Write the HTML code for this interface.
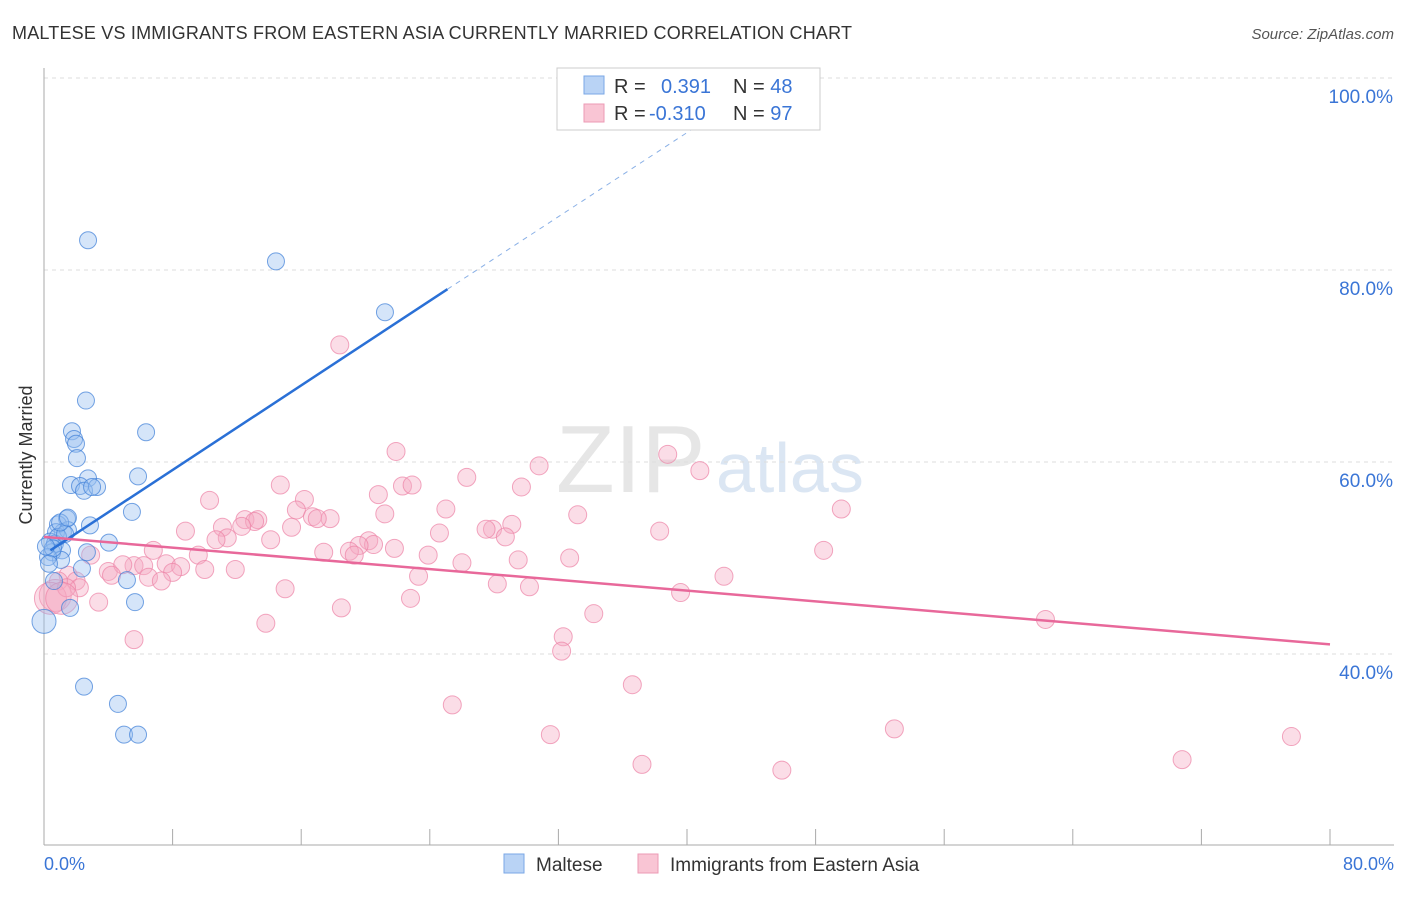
<!DOCTYPE html>
<html><head><meta charset="utf-8"><style>
body{margin:0;background:#fff;font-family:"Liberation Sans",sans-serif}
svg text{font-family:"Liberation Sans",sans-serif}
</style></head><body>
<svg width="1406" height="892">
<text x="12" y="39" font-size="18" fill="#333" textLength="840">MALTESE VS IMMIGRANTS FROM EASTERN ASIA CURRENTLY MARRIED CORRELATION CHART</text>
<text x="1394" y="39" font-size="15" fill="#555" font-style="italic" text-anchor="end">Source: ZipAtlas.com</text>
<text x="556" y="492" font-size="96" fill="#e6e6e6" font-family="Liberation Serif">ZIP</text>
<text x="716" y="492" font-size="70" fill="#dbe6f3">atlas</text>
<g id="grid"></g>
<line x1="44" y1="68" x2="44" y2="845" stroke="#aaa"/>
<line x1="44" y1="845" x2="1394" y2="845" stroke="#aaa"/>
<g id="ticks"></g>
<text x="32" y="455" font-size="18" fill="#333" transform="rotate(-90 32 455)" text-anchor="middle">Currently Married</text>
<text x="44" y="870" font-size="18" fill="#3a75d6">0.0%</text>
<text x="1394" y="870" font-size="18" fill="#3a75d6" text-anchor="end">80.0%</text>
<g id="pts"></g>
<g id="lines"></g>
<g>
<rect x="557" y="68" width="263" height="62" fill="#fff" stroke="#ccc"/>
<rect x="584" y="76" width="20" height="18" fill="#b9d3f5" stroke="#7aa7e6"/>
<rect x="584" y="104" width="20" height="18" fill="#f9c5d4" stroke="#ec9ab5"/>
<text x="614" y="93" font-size="20" fill="#333">R = <tspan fill="#3a75d6" x="661">0.391</tspan><tspan x="733" fill="#333">N = </tspan><tspan fill="#3a75d6">48</tspan></text>
<text x="614" y="120" font-size="20" fill="#333">R = <tspan fill="#3a75d6" x="649">-0.310</tspan><tspan x="733" fill="#333">N = </tspan><tspan fill="#3a75d6">97</tspan></text>
</g>
<g>
<rect x="504" y="854" width="20" height="19" fill="#b9d3f5" stroke="#7aa7e6"/>
<text x="536" y="871" font-size="19" fill="#333">Maltese</text>
<rect x="638" y="854" width="20" height="19" fill="#f9c5d4" stroke="#ec9ab5"/>
<text x="670" y="871" font-size="19" fill="#333">Immigrants from Eastern Asia</text>
</g>
</svg>
<script>
const yTicks=[100,80,60,40];
const yTickLabels=["100.0%","80.0%","60.0%","40.0%"];
const xTicks=[0,8,16,24,32,40,48,56,64,72,80];
const malteseX=[2.74,14.43,21.21,2.61,6.35,1.74,1.87,1.99,2.05,5.85,2.74,1.68,2.24,2.49,3.30,2.99,5.47,1.43,2.86,0.87,1.18,0.75,1.49,0.37,0.68,1.12,0.50,4.04,2.67,1.06,0.25,2.36,5.16,0.62,5.66,1.62,0.0,2.49,4.60,4.98,5.85,0.87,0.56,0.12,1.31,1.0,1.49,0.31];
const malteseY=[83.1,80.9,75.6,66.4,63.1,63.2,62.4,61.9,60.4,58.5,58.3,57.6,57.5,57.0,57.4,57.4,54.8,54.1,53.4,53.5,52.7,52.7,52.9,51.7,51.5,50.8,50.6,51.6,50.6,49.8,50.1,48.9,47.7,47.6,45.4,44.8,43.4,36.6,34.8,31.6,31.6,52.2,51.0,51.2,52.5,53.7,54.2,49.4];
const asiaX=[18.4,21.9,38.8,26.3,30.8,40.8,14.7,29.7,10.3,16.2,20.8,22.3,22.9,25.0,49.6,33.2,15.7,21.2,17.8,29.1,27.9,12.5,13.3,13.1,11.1,8.8,12.3,16.7,17.0,15.4,24.6,27.5,28.7,11.4,10.7,14.1,20.2,20.5,19.6,21.8,19.0,19.3,17.4,6.8,38.3,48.5,9.6,23.9,32.7,29.5,26.0,7.6,5.6,6.2,8.5,8.0,4.0,4.9,11.9,10.0,4.2,6.5,7.3,23.3,42.3,1.5,2.0,0.9,2.2,0.7,0.4,3.4,15.0,28.2,30.2,39.6,22.8,34.2,18.5,13.8,62.3,5.6,32.3,32.2,36.6,25.4,52.9,31.5,77.6,37.2,45.9,70.8,2.9,1.4,1.1];
const asiaY=[72.2,61.1,60.8,58.4,59.6,59.1,57.6,57.4,56.0,56.1,56.6,57.5,57.6,55.1,55.1,54.5,55.0,54.6,54.1,53.5,53.0,54.0,54.0,53.8,53.2,52.8,53.3,54.3,54.1,53.2,52.6,53.0,52.2,52.1,51.9,51.9,51.8,51.4,51.3,51.0,50.7,50.3,50.6,50.8,52.8,50.8,50.3,50.3,50.0,49.8,49.5,49.4,49.2,49.2,49.1,48.5,48.6,49.3,48.8,48.8,48.2,48.0,47.6,48.1,48.1,48.2,47.6,47.6,46.9,46.1,45.8,45.4,46.8,47.3,47.0,46.4,45.8,44.2,44.8,43.2,43.6,41.5,41.8,40.3,36.8,34.7,32.2,31.6,31.4,28.5,27.9,29.0,50.3,46.9,45.8];
const NS='http://www.w3.org/2000/svg';
const sx=v=>44+v/80*1286, sy=v=>78+(100-v)*9.6;
function mk(t,a,p){const e=document.createElementNS(NS,t);for(const k in a)e.setAttribute(k,a[k]);p.appendChild(e);return e;}
const grid=document.getElementById('grid');
yTicks.forEach((v,i)=>{
 const l=mk('line',{x1:44,x2:1394,y1:sy(v),y2:sy(v),stroke:'#ddd','stroke-dasharray':'4,4'},grid);
 
 
 const t=mk('text',{x:1393,y:sy(v)+25,'font-size':19,fill:'#3a75d6','text-anchor':'end'},grid);
 t.textContent=yTickLabels[i];
 
 
});
const ticks=document.getElementById('ticks');
xTicks.forEach(v=>{
 const l=mk('line',{x1:sx(v),x2:sx(v),y1:829,y2:845,stroke:'#aaa'},ticks);
 
 
});
const pts=document.getElementById('pts');
asiaX.forEach((x,i)=>{
 const c=mk('circle',{cx:sx(x),cy:sy(asiaY[i]),r:(x<1.2&&asiaY[i]<46.5&&asiaY[i]>45.5)?16:9,fill:'rgba(246,170,194,0.4)',stroke:'rgba(236,130,165,0.7)','stroke-width':1},pts);
 
 
});
malteseX.forEach((x,i)=>{
 const c=mk('circle',{cx:sx(x),cy:sy(malteseY[i]),r:(x===0)?12:8.5,fill:'rgba(150,190,240,0.4)',stroke:'rgba(60,125,215,0.7)','stroke-width':1},pts);
 
 
});
const lines=document.getElementById('lines');
let l=mk('line',{x1:sx(0.4),y1:sy(50.8),x2:sx(25.1),y2:sy(78.0),stroke:'#2a70d6','stroke-width':2.5},lines);


l=mk('line',{x1:sx(25.1),y1:sy(78.0),x2:sx(42),y2:sy(96.5),stroke:'#8ab0e6','stroke-width':1,'stroke-dasharray':'5,5'},lines);


l=mk('line',{x1:sx(0),y1:sy(52.2),x2:sx(80),y2:sy(41.0),stroke:'#e8689a','stroke-width':2.5},lines);


</script>
</body></html>
